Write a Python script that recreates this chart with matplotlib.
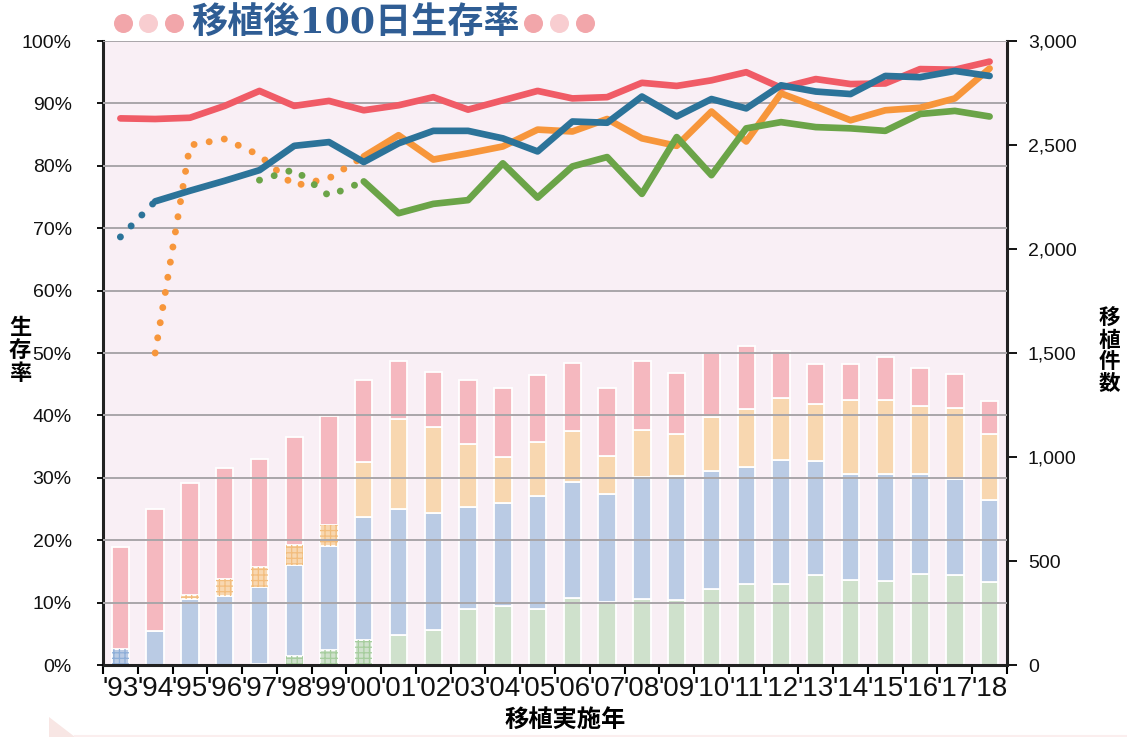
import matplotlib
matplotlib.use('Agg')
import matplotlib.pyplot as plt
import numpy as np
from matplotlib.lines import Line2D
from matplotlib.patches import Polygon

plt.rcParams['font.family'] = ['Liberation Sans', 'Noto Sans CJK JP', 'DejaVu Sans']
plt.rcParams['hatch.linewidth'] = 0.9

# ---- data ----
years = ["'93", "'94", "'95", "'96", "'97", "'98", "'99", "'00", "'01", "'02", "'03", "'04", "'05",
         "'06", "'07", "'08", "'09", "'10", "'11", "'12", "'13", "'14", "'15", "'16", "'17", "'18"]

# transplant counts, stacked bottom -> top
n_green = [0, 0, 0, 0, 4, 43, 72, 120, 144, 168, 268, 284, 268, 321, 303, 319, 311, 365, 388, 388,
           431, 407, 402, 436, 431, 401]
n_blue = [77, 163, 317, 332, 370, 438, 500, 592, 607, 561, 490, 496, 543, 557, 521, 583, 599, 569,
          562, 598, 551, 513, 518, 481, 465, 391]
n_orange = [0, 0, 20, 81, 96, 96, 101, 264, 430, 414, 303, 222, 263, 247, 182, 226, 202, 260, 281,
            298, 271, 354, 354, 330, 338, 317]
n_pink = [488, 587, 538, 534, 519, 519, 524, 394, 282, 264, 309, 331, 322, 325, 327, 332, 293, 308,
          304, 227, 194, 173, 208, 183, 167, 162]

# years where a segment is drawn with the grid pattern (few cases)
hatch_blue = ["'93"]
hatch_orange = ["'95", "'96", "'97", "'98", "'99"]
hatch_green = ["'97", "'98", "'99", "'00"]

# 100-day survival rate (%)
nan = np.nan
surv_red = [87.6, 87.5, 87.7, 89.6, 92.0, 89.6, 90.4, 88.9, 89.7, 91.0, 89.0, 90.5, 92.0, 90.8, 91.0,
            93.3, 92.8, 93.7, 95.0, 92.5, 93.9, 93.1, 93.2, 95.5, 95.4, 96.7]
surv_orange = [nan, 50.0, 83.3, 84.3, 81.7, 76.8, 78.0, 81.5, 84.9, 81.0, 82.0, 83.1, 85.8, 85.5, 87.5,
               84.4, 83.2, 88.7, 83.9, 91.6, 89.5, 87.3, 88.9, 89.3, 90.8, 95.6]
surv_blue = [68.6, 74.3, 76.0, 77.6, 79.3, 83.2, 83.8, 80.6, 83.6, 85.6, 85.6, 84.4, 82.3, 87.1, 86.9,
             91.1, 87.9, 90.7, 89.2, 92.9, 91.9, 91.5, 94.4, 94.2, 95.2, 94.4]
surv_green = [nan, nan, nan, nan, 77.7, 79.4, 75.2, 77.5, 72.4, 73.9, 74.5, 80.4, 74.9, 79.9, 81.4,
              75.5, 84.6, 78.5, 86.0, 87.0, 86.2, 86.0, 85.6, 88.3, 88.8, 87.9]

pct_ticks = list(range(0, 101, 10))
count_ticks = list(range(0, 3001, 500))

W, H = 1127, 737
fig = plt.figure(figsize=(W / 100, H / 100), dpi=100)
ax = fig.add_axes([103 / W, 1 - 665 / H, (1007 - 103) / W, (665 - 41) / H])
ax.set_facecolor('#f9eff5')

x = np.arange(len(years))
yrs = np.array(years)
bottom = np.zeros(len(years))
for vals, col, hcol, hatched in [(n_green, '#cfe1cc', '#a6cd9d', hatch_green),
                                 (n_blue, '#bacbe4', '#8eaed8', hatch_blue),
                                 (n_orange, '#f8d7b0', '#f3bd7d', hatch_orange),
                                 (n_pink, '#f5b8bf', '#f5b8bf', [])]:
    v = np.array(vals, float)
    ax.bar(x, v, 0.5, bottom=bottom, color=col, edgecolor='white', linewidth=1.3, zorder=2)
    m = np.isin(yrs, hatched)
    if m.any():
        ax.bar(x[m], v[m], 0.5, bottom=bottom[m], facecolor='none', edgecolor=hcol,
               linewidth=0, hatch='+++', zorder=2.5)
    bottom += v

ax.set_xlim(-0.5, 25.5)
ax.set_ylim(0, 3000)

ax2 = ax.twinx()
ax2.set_ylim(0, 100)

# solid from index s on, dotted before it
for vals, col, s in [(surv_red, '#f05b66', 0), (surv_orange, '#f7963b', 7),
                     (surv_blue, '#2c7399', 1), (surv_green, '#6ba448', 7)]:
    v = np.array(vals, float)
    ax2.plot(x[s:], v[s:], color=col, lw=4.8, solid_capstyle='round',
             solid_joinstyle='round', zorder=4)
    if s > 0:
        ax2.plot(x[:s + 1], v[:s + 1], color=col, lw=5, linestyle=(0, (0.01, 2.2)),
                 dash_capstyle='round', zorder=3.5)

# axes / ticks
ax.yaxis.tick_right()
ax.set_yticks(count_ticks, labels=[f'{c:,}' for c in count_ticks])
ax.tick_params(axis='y', length=7, width=1.3, pad=8, labelsize=14, labelcolor='#111')

ax2.yaxis.tick_left()
ax2.set_yticks(pct_ticks, labels=[f'{p}%' for p in pct_ticks])
ax2.tick_params(axis='y', length=4.5, width=1.3, pad=18, labelsize=14, labelcolor='#111')
ax2.grid(axis='y', color='#a9a6a9', lw=1.4)
ax2.set_axisbelow(True)
ax2.get_ygridlines()[0].set_visible(False)

ax.set_xticks(np.arange(-0.5, 26, 1), labels=[''] * 27)
ax.set_xticks(x, labels=years, minor=True)
ax.tick_params(axis='x', which='major', length=6.5, width=1.5)
ax.tick_params(axis='x', which='minor', length=0, pad=8, labelsize=20, labelcolor='#111')
for lbl in ax.get_xticklabels(minor=True):
    lbl.set_fontfamily(['Liberation Sans Narrow', 'DejaVu Sans Condensed', 'Liberation Sans'])

for s in ['left', 'right', 'bottom']:
    ax.spines[s].set_linewidth(2.2)
    ax.spines[s].set_color('#222')
ax.spines['top'].set_visible(False)
for s in ax2.spines.values():
    s.set_visible(False)

# labels
cjk = ['Noto Sans CJK JP', 'DejaVu Sans']
fig.text(20 / W, 1 - 350 / H, '生\n存\n率', ha='center', va='center', fontsize=16,
         fontweight='bold', linespacing=1.0, family=cjk)
fig.text(1109 / W, 1 - 351 / H, '移\n植\n件\n数', ha='center', va='center', fontsize=15.5,
         fontweight='bold', linespacing=1.05, family=cjk)
fig.text(565 / W, 1 - 720 / H, '移植実施年', ha='center', va='center', fontsize=17.5,
         fontweight='bold', family=cjk)

# title with dots
fig.text(355.5 / W, 1 - 23 / H, '移植後100日生存率', ha='center', va='center', fontsize=26,
         fontweight='bold', color='#2f5d94', family=['DejaVu Serif', 'Noto Sans CJK JP'])
for cx, col in zip([122.5, 148, 174, 532.5, 558.5, 584.5],
                   ['#f2a6aa', '#f8cdd0', '#f2a6aa', '#f2a6aa', '#f8cdd0', '#f2a6aa']):
    fig.add_artist(Line2D([cx / W], [1 - 23 / H], marker='o', ms=13.7, color=col, mec='none',
                          transform=fig.transFigure))

# corner decoration
fig.add_artist(Polygon([[49 / W, 1 - 717 / H], [49 / W, 0], [75 / W, 0]], closed=True,
                       transform=fig.transFigure, fc='#f8e6e4', ec='none'))
fig.add_artist(Line2D([75 / W, 1], [1.5 / H, 1.5 / H], color='#fbeeee', lw=1.5,
                      transform=fig.transFigure))

fig.savefig('out.png', dpi=100)
